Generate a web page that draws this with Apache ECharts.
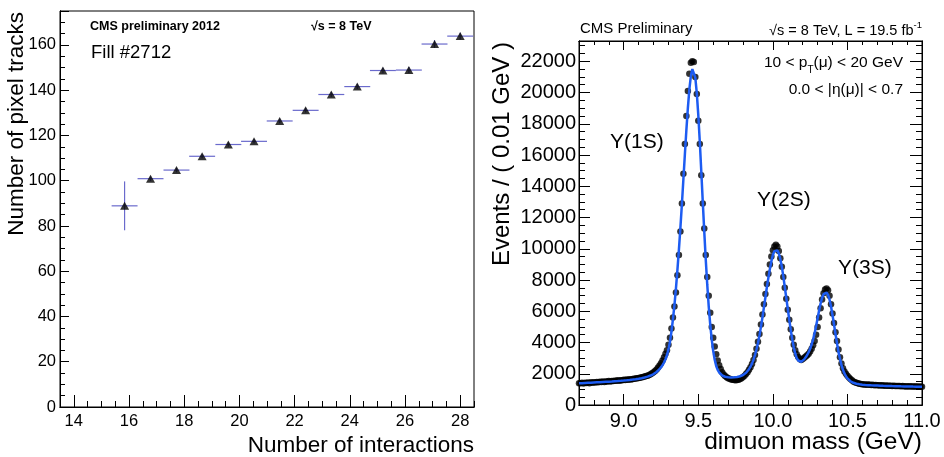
<!DOCTYPE html>
<html>
<head>
<meta charset="utf-8">
<script src="https://cdn.jsdelivr.net/npm/echarts@6/dist/echarts.min.js"></script>
<style>
html,body{margin:0;padding:0;background:#fff;}
#c{width:944px;height:457px;}
</style>
</head>
<body>
<div id="c"></div>
<script>
// ---------- Left panel: pixel tracks vs interactions ----------
const nInteractions = [15.84, 16.78, 17.72, 18.65, 19.60, 20.53, 21.46, 22.40, 23.33, 24.27, 25.20, 26.14, 27.07, 28.00];
const pixelTracks   = [88.9, 100.9, 104.7, 110.8, 116.0, 117.4, 126.4, 131.1, 138.1, 141.6, 148.7, 148.9, 160.4, 163.9];
const tracksErr     = [10.8, 1.0, 1.0, 0.9, 1.0, 1.0, 1.0, 1.0, 1.1, 1.1, 1.2, 1.3, 1.7, 1.5];
const interErr      = [0.47, 0.47, 0.47, 0.47, 0.47, 0.47, 0.47, 0.47, 0.47, 0.47, 0.47, 0.47, 0.47, 0.47];
const leftXTicks = [14, 16, 18, 20, 22, 24, 26, 28];

// ---------- Right panel: dimuon mass spectrum (0.01 GeV bins) ----------
const massStart = 8.70, massStep = 0.01;
const eventCounts = [
 1400,1390,1420,1380,1430,1410,1440,1400,1450,1430,
 1460,1440,1470,1450,1490,1470,1500,1480,1510,1500,
 1530,1510,1540,1530,1560,1550,1580,1560,1590,1580,
 1610,1600,1630,1620,1650,1640,1670,1680,1700,1710,
 1730,1750,1770,1790,1820,1850,1880,1920,1970,2030,
 2100,2180,2280,2400,2530,2680,2850,3050,3280,3500,
 3850,4300,4900,5600,6300,7200,8300,9600,11100,12900,
 14800,16700,18500,20100,21200,21900,22000,21950,21000,19900,
 18200,16700,14700,12900,11300,9600,8200,7000,5900,5000,
 4300,3750,3250,2850,2550,2300,2100,1950,1850,1780,
 1720,1680,1640,1620,1600,1590,1600,1620,1660,1720,
 1800,1880,1980,2100,2250,2420,2620,2880,3200,3600,
 4050,4550,5150,5800,6450,7100,7750,8400,9000,9500,
 9900,10150,10250,10150,9850,9400,8850,8200,7500,6800,
 6100,5450,4850,4300,3850,3500,3250,3080,2960,2880,
 2950,3020,3100,3180,3280,3420,3600,3820,4100,4500,
 5000,5600,6200,6750,7150,7400,7450,7350,7000,6450,
 5850,5250,4650,4100,3550,3050,2650,2350,2150,2000,
 1870,1760,1660,1580,1500,1450,1420,1390,1360,1340,
 1330,1320,1310,1300,1310,1290,1280,1290,1270,1280,
 1260,1270,1250,1260,1250,1240,1250,1230,1240,1230,
 1220,1230,1220,1210,1220,1210,1200,1210,1200,1190,
 1200,1190,1200,1180,1190,1180,1190,1180,1170,1180,
 1170
];
const fitCurve = [
 1390,1395,1400,1405,1410,1415,1420,1425,1430,1435,
 1440,1445,1450,1455,1460,1466,1472,1478,1484,1490,
 1496,1502,1508,1515,1522,1529,1536,1543,1551,1559,
 1567,1576,1585,1594,1604,1614,1625,1637,1650,1664,
 1680,1697,1716,1737,1760,1786,1815,1848,1886,1930,
 1982,2042,2113,2196,2294,2410,2550,2720,2930,3200,
 3560,4050,4700,5500,6400,7450,8650,9950,11350,12850,
 14450,16050,17600,19000,20200,21050,21500,21450,20950,19950,
 18550,16850,14950,13000,11100,9300,7700,6300,5150,4200,
 3450,2900,2500,2250,2080,1970,1890,1840,1810,1790,
 1780,1770,1765,1765,1770,1780,1795,1815,1840,1875,
 1920,1980,2060,2160,2290,2450,2650,2900,3200,3550,
 3950,4450,5000,5600,6250,6900,7550,8150,8700,9200,
 9600,9850,9950,9900,9700,9350,8850,8250,7550,6850,
 6150,5450,4800,4200,3700,3300,3000,2850,2780,2770,
 2820,2920,3050,3200,3380,3600,3870,4200,4600,5050,
 5550,6050,6500,6850,7100,7200,7200,7050,6750,6300,
 5750,5150,4550,3950,3400,2950,2550,2250,2020,1840,
 1700,1600,1520,1460,1420,1385,1360,1340,1325,1312,
 1300,1292,1285,1278,1272,1266,1261,1256,1251,1247,
 1243,1239,1235,1231,1228,1225,1222,1219,1216,1213,
 1210,1207,1205,1202,1200,1198,1195,1193,1191,1189,
 1187,1185,1183,1181,1179,1177,1176,1174,1172,1171,
 1170
];
const rightXTicks = [9.0, 9.5, 10.0, 10.5, 11.0];

// ---------- build ----------
const FONT = "'Liberation Sans', Arial, Helvetica, sans-serif";
const massOf = i => +(massStart + i * massStep).toFixed(2);
const pointsData = eventCounts.map((v, i) => [massOf(i), v]);
const fitData = fitCurve.map((v, i) => [massOf(i), v]);
const errRows = nInteractions.map((x, i) => [x, pixelTracks[i], interErr[i], tracksErr[i]]);
const triRows = nInteractions.map((x, i) => [x, pixelTracks[i]]);

function valueAxis(extra) {
  return Object.assign({
    type: 'value',
    splitLine: { show: false },
    axisLine: { show: true, onZero: false, lineStyle: { color: '#000', width: 1 } },
    axisTick: { show: true, inside: true, lineStyle: { color: '#000', width: 1 } },
    axisLabel: { show: false },
  }, extra);
}

const xAxes = [
  valueAxis({ gridIndex: 0, position: 'bottom', min: 13.5, max: 28.5, interval: 0.5,
    axisTick: { show: true, inside: true, length: 6, lineStyle: { color: '#000' } } }),
  valueAxis({ gridIndex: 0, position: 'bottom', min: 13.5, max: 28.5,
    axisTick: { show: true, inside: true, length: 12, customValues: leftXTicks, lineStyle: { color: '#000' } },
    axisLabel: { show: true, customValues: leftXTicks, margin: 6, color: '#000', fontSize: 16.5, fontFamily: FONT } }),
  valueAxis({ gridIndex: 1, position: 'bottom', min: 8.7, max: 11.0, interval: 0.1,
    axisTick: { show: true, inside: true, length: 5, lineStyle: { color: '#000' } } }),
  valueAxis({ gridIndex: 1, position: 'bottom', min: 8.7, max: 11.0,
    axisTick: { show: true, inside: true, length: 11, customValues: rightXTicks, lineStyle: { color: '#000' } },
    axisLabel: { show: true, customValues: rightXTicks, margin: 6, color: '#000', fontSize: 20, fontFamily: FONT,
      formatter: v => v.toFixed(1) } }),
  valueAxis({ gridIndex: 1, position: 'top', min: 8.7, max: 11.0, interval: 0.1,
    axisTick: { show: true, inside: true, length: 4, lineStyle: { color: '#000' } } }),
  valueAxis({ gridIndex: 1, position: 'top', min: 8.7, max: 11.0,
    axisTick: { show: true, inside: true, length: 9, customValues: rightXTicks, lineStyle: { color: '#000' } } }),
];

const yAxes = [
  valueAxis({ gridIndex: 0, position: 'left', min: 0, max: 175, interval: 5,
    axisTick: { show: true, inside: true, length: 5, lineStyle: { color: '#000' } } }),
  valueAxis({ gridIndex: 0, position: 'left', min: 0, max: 175, interval: 20,
    axisTick: { show: true, inside: true, length: 9, lineStyle: { color: '#000' } },
    axisLabel: { show: true, margin: 4, color: '#000', fontSize: 16.5, fontFamily: FONT,
      formatter: v => (v % 20 === 0 ? String(v) : '') } }),
  valueAxis({ gridIndex: 1, position: 'left', min: 0, max: 23300, interval: 500,
    axisTick: { show: true, inside: true, length: 6, lineStyle: { color: '#000' } } }),
  valueAxis({ gridIndex: 1, position: 'left', min: 0, max: 23300, interval: 2000,
    axisTick: { show: true, inside: true, length: 11, lineStyle: { color: '#000' } },
    axisLabel: { show: true, margin: 3, color: '#000', fontSize: 20, fontFamily: FONT,
      formatter: v => (v % 2000 === 0 ? String(v) : '') } }),
  valueAxis({ gridIndex: 1, position: 'right', min: 0, max: 23300, interval: 500,
    axisTick: { show: true, inside: true, length: 6, lineStyle: { color: '#000' } } }),
  valueAxis({ gridIndex: 1, position: 'right', min: 0, max: 23300, interval: 2000,
    axisTick: { show: true, inside: true, length: 12, lineStyle: { color: '#000' } } }),
];

function txt(text, x, y, opt) {
  return {
    type: 'text', x: x, y: y, z: 100,
    style: Object.assign({ text: text, fill: '#000', fontFamily: FONT, fontSize: 16,
      textAlign: 'left', textVerticalAlign: 'middle' }, opt || {})
  };
}

const option = {
  animation: false,
  backgroundColor: '#fff',
  grid: [
    { left: 60, top: 11, width: 414, height: 396, show: true, borderColor: '#000', borderWidth: 1, containLabel: false },
    { left: 579, top: 41, width: 343, height: 364, show: true, borderColor: '#000', borderWidth: 1, containLabel: false },
  ],
  xAxis: xAxes,
  yAxis: yAxes,
  series: [
    {
      name: 'errors', type: 'custom', xAxisIndex: 1, yAxisIndex: 1, z: 2,
      data: errRows,
      encode: { x: 0, y: 1 },
      renderItem: function (params, api) {
        const x = api.value(0), y = api.value(1), xe = api.value(2), ye = api.value(3);
        const pL = api.coord([x - xe, y]), pR = api.coord([x + xe, y]);
        const pT = api.coord([x, y + ye]), pB = api.coord([x, y - ye]);
        const st = { stroke: '#6a6acc', lineWidth: 1.2 };
        return { type: 'group', children: [
          { type: 'line', shape: { x1: pL[0], y1: pL[1], x2: pR[0], y2: pR[1] }, style: st },
          { type: 'line', shape: { x1: pT[0], y1: pT[1], x2: pB[0], y2: pB[1] }, style: st },
        ] };
      }
    },
    {
      name: 'pixel tracks', type: 'scatter', xAxisIndex: 1, yAxisIndex: 1, z: 3,
      data: triRows, symbol: 'triangle', symbolSize: [9, 8],
      itemStyle: { color: '#000' }
    },
    {
      name: 'data', type: 'scatter', xAxisIndex: 3, yAxisIndex: 3, z: 2,
      data: pointsData, symbol: 'circle', symbolSize: 6.5,
      itemStyle: { color: '#000' }
    },
    {
      name: 'fit', type: 'line', xAxisIndex: 3, yAxisIndex: 3, z: 4,
      data: fitData, showSymbol: false, symbol: 'none', smooth: false,
      lineStyle: { color: '#1d5cf2', width: 2.5 }
    },
  ],
  graphic: [
    txt('CMS preliminary 2012', 90, 27, { fontSize: 12.5, fontWeight: 'bold' }),
    txt('\u221As = 8 TeV', 311, 27, { fontSize: 12.5, fontWeight: 'bold' }),
    txt('Fill #2712', 91, 53, { fontSize: 18.5 }),
    Object.assign(txt('Number of pixel tracks', 17, 12, { fontSize: 22.5, textAlign: 'right' }), { rotation: Math.PI / 2 }),
    txt('Number of interactions', 474, 446, { fontSize: 22.5, textAlign: 'right' }),

    txt('CMS Preliminary', 580, 29, { fontSize: 15 }),
    txt('{a|\u221As = 8 TeV, L = 19.5 fb}{s|-1}', 922, 29, { fontSize: 14.5, textAlign: 'right',
      rich: { a: { fontSize: 14.5, fontFamily: FONT, fill: '#000', verticalAlign: 'bottom', lineHeight: 18 },
              s: { fontSize: 9.5, fontFamily: FONT, fill: '#000', verticalAlign: 'top', lineHeight: 18 } } }),
    txt('{a|10 < p}{b|T}{a|(\u03BC) < 20 GeV}', 903, 65, { fontSize: 15.5, textAlign: 'right',
      rich: { a: { fontSize: 15.5, fontFamily: FONT, fill: '#000', verticalAlign: 'top', lineHeight: 20 },
              b: { fontSize: 10, fontFamily: FONT, fill: '#000', verticalAlign: 'bottom', lineHeight: 20 } } }),
    txt('0.0 < |\u03B7(\u03BC)| < 0.7', 903, 90, { fontSize: 15.5, textAlign: 'right' }),
    txt('Y(1S)', 610, 142, { fontSize: 21 }),
    txt('Y(2S)', 757, 200, { fontSize: 21 }),
    txt('Y(3S)', 838, 268, { fontSize: 21 }),
    Object.assign(txt('Events / ( 0.01 GeV )', 502, 42, { fontSize: 24, textAlign: 'right' }), { rotation: Math.PI / 2 }),
    txt('dimuon mass (GeV)', 922, 442, { fontSize: 24.5, textAlign: 'right' }),
  ]
};

const chart = echarts.init(document.getElementById('c'), null, { renderer: 'canvas' });
chart.setOption(option);
</script>
</body>
</html>
